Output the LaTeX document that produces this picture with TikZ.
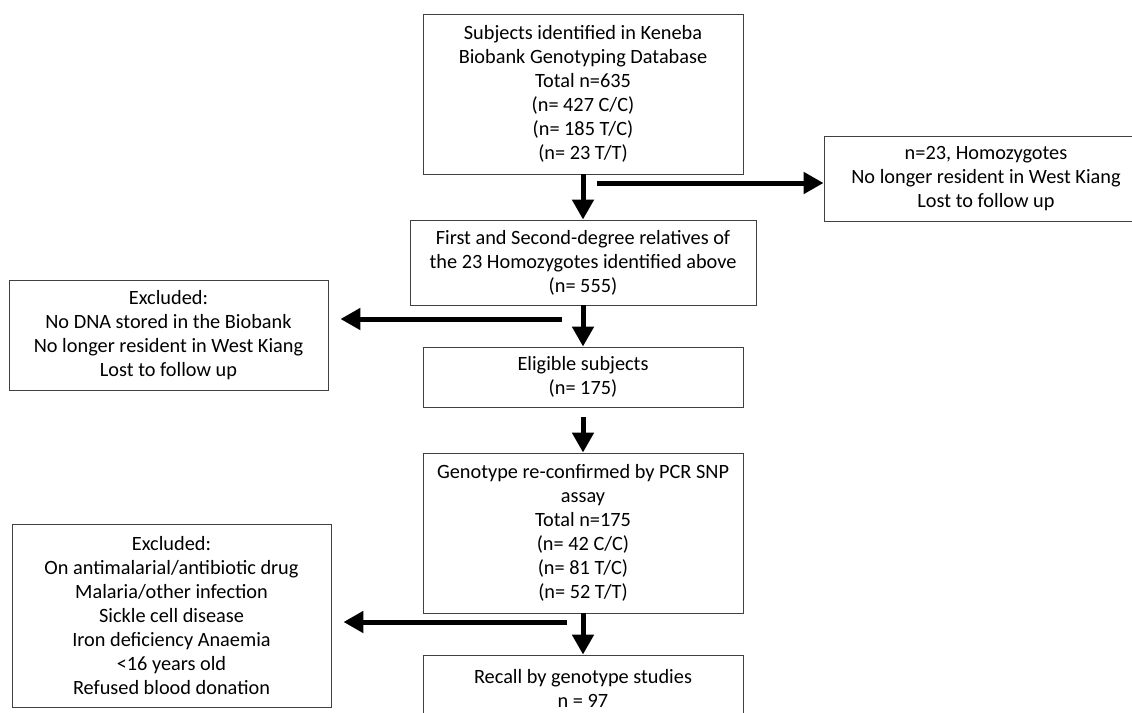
\documentclass[tikz,border=0pt]{standalone}
\usepackage{fontspec}
\setmainfont{Carlito}
\usetikzlibrary{arrows.meta}

\begin{document}
\begin{tikzpicture}[x=1pt,y=-1pt,
  box/.style={draw=black!75, line width=0.9pt, align=center, inner sep=0pt,
    font=\fontsize{20.3}{24}\selectfont},
  flow/.style={line width=5pt, -{Triangle[length=20pt,width=21pt]}}]
\useasboundingbox (0,0) rectangle (1132,712);
\node[box, minimum width=320, minimum height=160] (subjects) at (583,94)
  {Subjects identified in Keneba\\Biobank Genotyping Database\\Total n=635\\(n= 427 C/C)\\(n= 185 T/C)\\(n= 23 T/T)};
\node[box, minimum width=324, minimum height=85] (homoz) at (986,178.5)
  {n=23, Homozygotes\\No longer resident in West Kiang\\Lost to follow up};
\node[box, minimum width=346, minimum height=85] (relatives) at (583,262.5)
  {First and Second-degree relatives of\\the 23 Homozygotes identified above\\(n= 555)};
\node[box, minimum width=319, minimum height=110] (excl1) at (168.5,335)
  {Excluded:\\No DNA stored in the Biobank\\No longer resident in West Kiang\\Lost to follow up};
\node[box, minimum width=320, minimum height=60] (eligible) at (583,377)
  {Eligible subjects\\(n= 175)};
\node[box, minimum width=320, minimum height=160] (genotype) at (583,533)
  {Genotype re-confirmed by PCR SNP\\assay\\Total n=175\\(n= 42 C/C)\\(n= 81 T/C)\\(n= 52 T/T)};
\node[box, minimum width=319, minimum height=183] (excl2) at (171.5,615.5)
  {Excluded:\\On antimalarial/antibiotic drug\\Malaria/other infection\\Sickle cell disease\\Iron deficiency Anaemia\\<16 years old\\Refused blood donation};
\node[box, minimum width=320, minimum height=66] (recall) at (583,688)
  {Recall by genotype studies\\n = 97};

% side branches start beside the main arrows
\coordinate (b1) at (597,183);
\coordinate (b2) at (562,319);
\coordinate (b3) at (567,622);

\draw[flow] (subjects.south) -- (relatives.north);
\draw[flow] (b1) -- (b1 -| homoz.west);
\draw[flow] (relatives.south) -- (eligible.north);
\draw[flow, shorten >=12pt] (b2) -- (b2 -| excl1.east);
\draw[flow, shorten <=10pt] (eligible.south) -- (genotype.north);
\draw[flow, shorten >=12pt] (b3) -- (b3 -| excl2.east);
\draw[flow] (genotype.south) -- (recall.north);
\end{tikzpicture}
\end{document}
